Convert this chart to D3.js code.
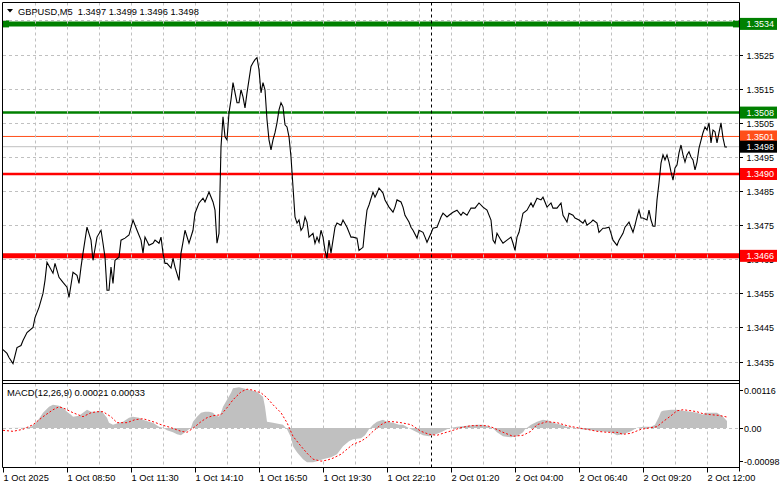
<!DOCTYPE html>
<html><head><meta charset="utf-8">
<script src="https://cdn.jsdelivr.net/npm/d3@7"></script>
<style>
html,body{margin:0;padding:0;background:#fff;overflow:hidden;}
svg{display:block;font-family:"Liberation Sans",Arial,sans-serif;}
</style></head><body>
<svg id="c" width="781" height="489"></svg>
<script>
// ---------- DATA ----------
const symbolTitle = "GBPUSD,M5  1.3497 1.3499 1.3496 1.3498";
const macdTitle = "MACD(12,26,9) 0.00021 0.00033";

// bar index (M5 bars from chart start) -> close
const closes = [
[0,1.34385],[2,1.34374],[3,1.34362],[5,1.34344],[7,1.34391],[9,1.34397],[10,1.34412],[12,1.34435],[15,1.34450],[16,1.34479],
[18,1.34509],[20,1.34550],[21,1.34588],[22,1.34641],[25,1.34609],[26,1.34638],[28,1.34597],[30,1.34582],[32,1.34568],[33,1.34538],
[35,1.34612],[37,1.34603],[38,1.34579],[39,1.34627],[40,1.34668],[42,1.34744],[44,1.34706],[45,1.34647],[47,1.34715],[49,1.34735],
[50,1.34697],[51,1.34656],[52,1.34559],[53,1.34559],[54,1.34627],[55,1.34579],[56,1.34647],[58,1.34656],[59,1.34706],[61,1.34712],
[63,1.34721],[65,1.34765],[67,1.34735],[69,1.34706],[70,1.34668],[71,1.34715],[73,1.34691],[75,1.34697],[76,1.34706],[78,1.34697],
[79,1.34715],[80,1.34668],[81,1.34638],[82,1.34638],[84,1.34624],[85,1.34653],[86,1.34627],[88,1.34588],[89,1.34668],[90,1.34700],
[91,1.34735],[93,1.34697],[95,1.34735],[96,1.34785],[98,1.34815],[100,1.34829],
[101,1.34818],[103,1.34847],[105,1.34818],[106,1.34794],[107,1.34697],[108,1.34726],[109,1.34979],[110,1.35068],[111,1.35009],[112,1.35000],
[113,1.35079],[114,1.35118],[115,1.35168],[117,1.35109],[118,1.35109],[119,1.35147],[120,1.35126],[121,1.35094],[122,1.35138],[124,1.35215],
[125,1.35226],[126,1.35235],[127,1.35241],[128,1.35206],[129,1.35138],[130,1.35168],[131,1.35147],[132,1.35059],[133,1.35000],[134,1.34971],
[135,1.35000],[136,1.35021],[137,1.35050],[138,1.35088],[139,1.35109],[140,1.35097],[141,1.35044],[142,1.35038],[143,1.35009],[144,1.34950],
[145,1.34862],[146,1.34774],[147,1.34756],[148,1.34765],[149,1.34735],[150,1.34744],[151,1.34774],[152,1.34759],[153,1.34715],[155,1.34726],
[156,1.34697],[157,1.34715],[158,1.34700],[159,1.34735],[160,1.34715],[161,1.34676],[162,1.34653],[163,1.34706],[164,1.34668],[165,1.34706],
[166,1.34744],[167,1.34756],[169,1.34750],[170,1.34765],[172,1.34744],[174,1.34715],[175,1.34715],[177,1.34712],[178,1.34676],[180,1.34685],
[181,1.34744],[182,1.34794],[183,1.34809],[185,1.34847],[186,1.34832],[187,1.34844],[188,1.34859],[190,1.34844],[191,1.34824],[193,1.34803],
[195,1.34788],[196,1.34803],[197,1.34824],[199,1.34818],[200,1.34803],[201,1.34779],[203,1.34759],[204,1.34744],[205,1.34735],[207,1.34712],
[208,1.34735],[210,1.34729],[211,1.34715],[212,1.34700],[214,1.34726],[215,1.34741],[217,1.34744],[218,1.34759],[219,1.34774],[220,1.34785],
[222,1.34774],[223,1.34779],
[225,1.34788],[227,1.34794],[229,1.34779],[230,1.34788],[232,1.34779],[234,1.34800],[236,1.34800],[238,1.34815],[240,1.34803],[242,1.34794],
[244,1.34765],[245,1.34706],[246,1.34697],[247,1.34726],[249,1.34706],[250,1.34697],[252,1.34706],[254,1.34715],[255,1.34697],[256,1.34676],
[257,1.34715],[258,1.34729],[260,1.34785],[262,1.34794],[264,1.34815],[265,1.34803],[267,1.34829],[269,1.34824],[270,1.34832],[272,1.34803],
[274,1.34815],[275,1.34800],[277,1.34800],[279,1.34815],[280,1.34779],[282,1.34759],[283,1.34785],[285,1.34779],[286,1.34771],[288,1.34765],
[290,1.34756],[291,1.34765],[292,1.34750],[294,1.34759],[295,1.34765],[297,1.34756],[298,1.34729],[300,1.34741],[301,1.34741],[303,1.34744],
[304,1.34726],[305,1.34706],[307,1.34691],[308,1.34706],[310,1.34726],[311,1.34744],[313,1.34759],[314,1.34744],[315,1.34729],[316,1.34750],
[317,1.34774],[318,1.34794],[319,1.34771],[320,1.34771],[322,1.34765],[323,1.34794],[324,1.34765],[325,1.34747],[326,1.34747],[327,1.34824],
[328,1.34874],[329,1.34932],[330,1.34956],[331,1.34941],[332,1.34956],[333,1.34935],[334,1.34906],[335,1.34882],[336,1.34918],[337,1.34926],
[338,1.34962],[339,1.34985],[340,1.34956],[341,1.34935],[342,1.34956],[343,1.34965],[344,1.34950],[345,1.34941],[346,1.34912],[347,1.34935],
[348,1.34976],[350,1.35021],[351,1.35038],[352,1.35029],[353,1.35050],[354,1.34991],[355,1.35029],[356,1.35024],[357,1.34991],[358,1.35021],
[359,1.35050],[360,1.35006],[361,1.34979],[362,1.34979]
];

// MACD histogram (main line) by bar
const macdHist = [
[0,0],[11,0.00001],[14,0.00004],[17,0.00019],[20,0.00046],[23,0.00064],[25,0.00070],[28,0.00067],[30,0.00061],[32,0.00049],
[34,0.00040],[35,0.00034],[38,0.00037],[40,0.00046],[42,0.00055],[44,0.00049],[46,0.00049],[49,0.00052],[50,0.00046],[52,0.00031],
[53,0.00016],[55,0.00010],[58,0.00016],[60,0.00019],[63,0.00031],[65,0.00034],[68,0.00031],[70,0.00025],[73,0.00019],[75,0.00016],
[78,0.00004],[80,0.00001],[82,-0.00007],[85,-0.00013],[87,-0.00019],[89,-0.00022],[91,-0.00013],[94,0.00001],[95,0.00019],[97,0.00034],
[99,0.00046],[101,0.00049],[103,0.00049],[105,0.00046],[106,0.00040],[108,0.00034],[109,0.00046],[110,0.00064],[112,0.00085],[114,0.00106],
[115,0.00120],[118,0.00123],[120,0.00120],[124,0.00114],[127,0.00109],[130,0.00094],[131,0.00064],[132,0.00019],[135,0.00016],[140,0.00010],
[142,-0.00004],[144,-0.00028],[145,-0.00055],[147,-0.00073],[150,-0.00094],[152,-0.00103],[155,-0.00103],[157,-0.00100],[160,-0.00094],[164,-0.00088],
[167,-0.00079],[170,-0.00055],[173,-0.00040],[175,-0.00034],[179,-0.00031],[181,-0.00022],[183,-0.00004],[185,0.00010],[187,0.00019],[190,0.00025],
[192,0.00019],[195,0.00016],[198,0.00010],[200,0.00010],[204,-0.00004],[207,-0.00013],[210,-0.00022],[213,-0.00025],[215,-0.00022],[219,-0.00013],
[222,-0.00004],[224,0.00001],[227,0.00004],[232,0.00007],[237,0.00010],[240,0.00010],[243,0.00004],[245,-0.00001],[247,-0.00013],[250,-0.00025],
[254,-0.00028],[257,-0.00025],[260,-0.00013],[261,-0.00004],[264,0.00010],[267,0.00019],[270,0.00025],[273,0.00022],[275,0.00016],[279,0.00010],
[282,0.00004],[285,0.00001],[289,-0.00004],[294,-0.00007],[299,-0.00010],[304,-0.00013],[307,-0.00022],[310,-0.00019],[314,-0.00010],[317,0.00001],
[320,0.00004],[324,0.00004],[326,0.00010],[328,0.00034],[329,0.00049],[330,0.00052],[334,0.00055],[337,0.00055],[340,0.00052],[344,0.00049],
[347,0.00046],[350,0.00040],[351,0.00046],[354,0.00046],[357,0.00046],[360,0.00034],[362,0.00021]
];

// MACD signal line by bar
const macdSignal = [
[0,-0.00007],[5,-0.00010],[10,-0.00004],[15,0.00010],[20,0.00034],[25,0.00055],[28,0.00064],[31,0.00058],[35,0.00046],[40,0.00034],
[44,0.00046],[47,0.00049],[50,0.00049],[54,0.00034],[57,0.00016],[62,0.00016],[66,0.00025],[70,0.00028],[75,0.00019],[79,0.00010],
[84,0.00001],[89,-0.00010],[92,-0.00013],[95,-0.00001],[99,0.00019],[102,0.00031],[105,0.00037],[109,0.00040],[112,0.00061],[115,0.00085],
[119,0.00109],[122,0.00117],[125,0.00114],[129,0.00106],[132,0.00091],[135,0.00070],[139,0.00046],[142,0.00016],[145,-0.00025],[149,-0.00055],
[152,-0.00076],[155,-0.00094],[159,-0.00100],[162,-0.00097],[165,-0.00091],[169,-0.00079],[172,-0.00064],[175,-0.00049],[179,-0.00040],[182,-0.00028],
[185,-0.00010],[189,0.00010],[192,0.00019],[195,0.00019],[199,0.00016],[204,0.00010],[209,-0.00010],[213,-0.00019],[217,-0.00022],[220,-0.00016],
[225,-0.00007],[229,0.00001],[234,0.00007],[239,0.00007],[242,0.00007],[245,0.00001],[250,-0.00013],[255,-0.00025],[260,-0.00022],[264,-0.00010],
[267,0.00010],[272,0.00019],[277,0.00016],[282,0.00007],[287,0.00001],[292,-0.00004],[297,-0.00010],[302,-0.00013],[307,-0.00013],[310,-0.00019],
[314,-0.00016],[319,-0.00004],[324,0.00001],[327,0.00004],[330,0.00019],[334,0.00037],[337,0.00052],[340,0.00055],[344,0.00052],[347,0.00049],
[350,0.00043],[354,0.00040],[358,0.00038],[362,0.00033]
];

const priceTicks = [1.3435,1.3445,1.3455,1.3465,1.3475,1.3485,1.3495,1.3505,1.3515,1.3525,1.3535];
const priceTickLabels = ["1.3435","1.3445","1.3455","1.3465","1.3475","1.3485","1.3495","1.3505","1.3515","1.3525",""];
const macdTickValues = [0.00116, 0, -0.00098];
const macdTickLabels = ["0.00116", "0.00", "-0.00098"];
const timeLabels = ["1 Oct 2025","1 Oct 08:50","1 Oct 11:30","1 Oct 14:10","1 Oct 16:50","1 Oct 19:30",
  "1 Oct 22:10","2 Oct 01:20","2 Oct 04:00","2 Oct 06:40","2 Oct 09:20","2 Oct 12:00"];
const timeLabelBars = [0,32,64,96,128,160,192,224,256,288,320,352];
const gridBars = [16,32,48,64,80,96,112,128,144,160,176,192,208,224,240,256,272,288,304,320,336,352];
const daySeparatorBar = 214;
const levelValues = [1.3534, 1.3508, 1.3501, 1.3498, 1.3490, 1.3466];
const levelLabels = ["1.3534","1.3508","1.3501","1.3498","1.3490","1.3466"];
const levelKinds = ["greenThick","green","ask","bid","red","redThick"];

// ---------- STYLE / LAYOUT ----------
const styles = {
  greenThick:{stroke:"#008000", w:5, box:"#008000", txt:"#ffffff", ends:true},
  green:{stroke:"#008000", w:2.5, box:"#008000", txt:"#ffffff"},
  ask:{stroke:"#ff4f1a", w:1, box:"#ff4f1a", txt:"#ffffff"},
  bid:{stroke:"#c0c0c0", w:1, box:"#000000", txt:"#ffffff"},
  red:{stroke:"#ff0000", w:2.5, box:"#ff0000", txt:"#ffffff"},
  redThick:{stroke:"#ff0000", w:5, box:"#ff0000", txt:"#ffffff"}
};
const L = 3, R = 739;
const mainTop = 2.5, mainBot = 380.5, macdTop = 383.5, macdBot = 467.5;

const svg = d3.select("#c");

// font-size fitting helper: size a sample string to a target width
function fitSize(sample, target) {
  const t = svg.append("text").attr("font-size", 10).style("white-space", "pre").text(sample);
  const w = t.node().getComputedTextLength();
  t.remove();
  return w > 0 ? 10 * target / w : 9.3;
}
const fsTitle = fitSize(symbolTitle, 181);
const fsMacdTitle = fitSize(macdTitle, 138);
const fsAxis = fitSize("1.3525", 27.5);
const fsTime = fitSize("1 Oct 08:50", 48);

const x = d3.scaleLinear().domain([0, 362]).range([3, 727]);
const yP = d3.scaleLinear().domain([1.3435, 1.3525]).range([361.6, 54.6]);
const yM = d3.scaleLinear().domain([-0.00098, 0.00116]).range([460.5, 389.5]);

const gridCol = "#c0c0c0", dash = "3,3";

// levels (background objects)
levelValues.forEach((v, i) => {
  const s = styles[levelKinds[i]];
  const yy = yP(v);
  svg.append("line").attr("x1", L).attr("x2", R).attr("y1", yy).attr("y2", yy)
    .attr("stroke", s.stroke).attr("stroke-width", s.w);
  if (s.ends) {
    svg.append("rect").attr("x", L).attr("y", yy - 3.5).attr("width", 6).attr("height", 7).attr("fill", s.stroke);
    svg.append("rect").attr("x", R - 6).attr("y", yy - 3.5).attr("width", 7).attr("height", 7).attr("fill", s.stroke);
  }
});

// grid main
const g = svg.append("g");
g.selectAll(".hg").data(priceTicks).join("line")
  .attr("x1", L).attr("x2", R)
  .attr("y1", d => Math.round(yP(d)) + 0.5).attr("y2", d => Math.round(yP(d)) + 0.5)
  .attr("stroke", gridCol).attr("stroke-dasharray", dash);
g.selectAll(".vg").data(gridBars).join("line")
  .attr("x1", d => Math.round(x(d)) + 0.5).attr("x2", d => Math.round(x(d)) + 0.5)
  .attr("y1", mainTop).attr("y2", mainBot)
  .attr("stroke", gridCol).attr("stroke-dasharray", dash);
// grid macd
g.selectAll(".vgm").data(gridBars).join("line")
  .attr("x1", d => Math.round(x(d)) + 0.5).attr("x2", d => Math.round(x(d)) + 0.5)
  .attr("y1", macdTop).attr("y2", macdBot)
  .attr("stroke", gridCol).attr("stroke-dasharray", dash);
g.append("line").attr("x1", L).attr("x2", R)
  .attr("y1", Math.round(yM(0)) + 0.5).attr("y2", Math.round(yM(0)) + 0.5)
  .attr("stroke", gridCol).attr("stroke-dasharray", dash);

// day separator
svg.append("line")
  .attr("x1", Math.round(x(daySeparatorBar)) + 0.5).attr("x2", Math.round(x(daySeparatorBar)) + 0.5)
  .attr("y1", mainTop).attr("y2", macdBot)
  .attr("stroke", "#000").attr("stroke-dasharray", "3,3");

// price line
const line = d3.line().x(d => x(d[0])).y(d => yP(d[1]));
svg.append("path").datum(closes).attr("d", line)
  .attr("fill", "none").attr("stroke", "#000").attr("stroke-width", 1.1);

// MACD histogram
const area = d3.area().x(d => x(d[0])).y0(yM(0)).y1(d => yM(d[1]));
svg.append("path").datum(macdHist).attr("d", area).attr("fill", "#c0c0c0");
// signal
const sline = d3.line().x(d => x(d[0])).y(d => yM(d[1]));
svg.append("path").datum(macdSignal).attr("d", sline)
  .attr("fill", "none").attr("stroke", "#ff0000").attr("stroke-width", 1).attr("stroke-dasharray", "2,2");

// frames
const fr = svg.append("g").attr("stroke", "#000").attr("fill", "none");
fr.append("line").attr("x1", 2.5).attr("x2", 2.5).attr("y1", mainTop).attr("y2", macdBot);
fr.append("line").attr("x1", R + 0.5).attr("x2", R + 0.5).attr("y1", mainTop).attr("y2", macdBot + 4);
fr.append("line").attr("x1", 2.5).attr("x2", R + 0.5).attr("y1", mainTop).attr("y2", mainTop);
fr.append("line").attr("x1", 2.5).attr("x2", R + 0.5).attr("y1", mainBot).attr("y2", mainBot);
fr.append("line").attr("x1", 2.5).attr("x2", R + 0.5).attr("y1", macdTop).attr("y2", macdTop);
fr.append("line").attr("x1", 2.5).attr("x2", R + 0.5).attr("y1", macdBot).attr("y2", macdBot);

// right price axis
const ax = svg.append("g");
ax.selectAll(".pt").data(priceTicks).join("line")
  .attr("x1", R).attr("x2", R + 4)
  .attr("y1", d => Math.round(yP(d)) + 0.5).attr("y2", d => Math.round(yP(d)) + 0.5)
  .attr("stroke", "#000");
ax.selectAll(".pl").data(priceTicks.filter((d, i) => priceTickLabels[i])).join("text")
  .attr("x", 746.5).attr("y", d => yP(d) + 4)
  .attr("font-size", fsAxis).attr("fill", "#000")
  .text(d => priceTickLabels[priceTicks.indexOf(d)]);

// level labels
levelValues.forEach((v, i) => {
  const s = styles[levelKinds[i]];
  const yy = yP(v);
  svg.append("rect").attr("x", 740).attr("y", yy - 6).attr("width", 37).attr("height", 12).attr("fill", s.box);
  svg.append("text").attr("x", 746.5).attr("y", yy + 3.5).attr("font-size", fsAxis)
    .attr("fill", s.txt).text(levelLabels[i]);
});

// MACD axis labels
macdTickValues.forEach((v, i) => {
  svg.append("line").attr("x1", R).attr("x2", R + 4)
    .attr("y1", Math.round(yM(v)) + 0.5).attr("y2", Math.round(yM(v)) + 0.5).attr("stroke", "#000");
  svg.append("text").attr("x", 744).attr("y", yM(v) + 4).attr("font-size", fsAxis)
    .attr("fill", "#000").text(macdTickLabels[i]);
});

// time axis
timeLabelBars.forEach((b, i) => {
  const xx = Math.round(x(b)) + 0.5;
  svg.append("line").attr("x1", xx).attr("x2", xx).attr("y1", macdBot).attr("y2", macdBot + 5).attr("stroke", "#000");
  svg.append("text").attr("x", xx).attr("y", 480.5).attr("font-size", fsTime).attr("fill", "#000").text(timeLabels[i]);
});

// titles
svg.append("path").attr("d", "M7,9 L13,9 L10,12.5 Z").attr("fill", "#000");
svg.append("text").attr("x", 18).attr("y", 14.5).attr("font-size", fsTitle)
  .style("white-space", "pre").attr("fill", "#000").text(symbolTitle);
svg.append("text").attr("x", 7).attr("y", 395.5).attr("font-size", fsMacdTitle)
  .attr("fill", "#000").text(macdTitle);
</script>
</body></html>
